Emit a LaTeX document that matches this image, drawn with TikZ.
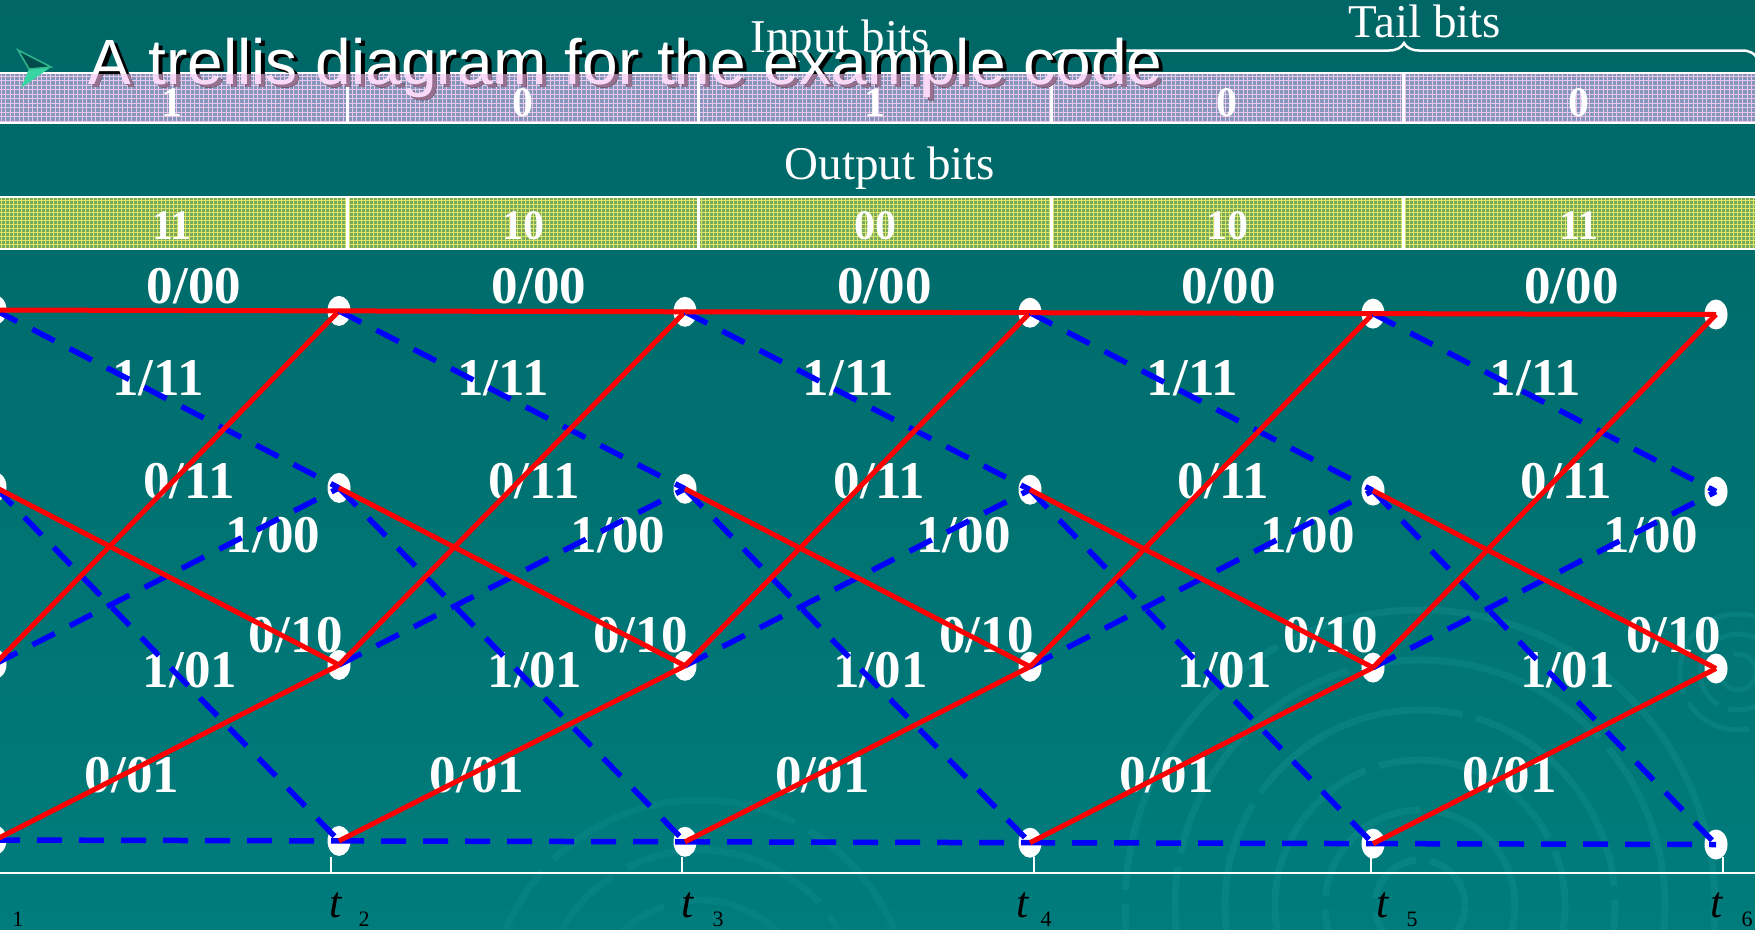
\documentclass[tikz,border=0pt]{standalone}
\usepackage{fontspec}
\setmainfont{Liberation Serif}
\newfontfamily\titlefont{Liberation Sans}
\usetikzlibrary{shapes.geometric,decorations.pathreplacing}

\definecolor{bgtop}{RGB}{0,102,102}
\definecolor{bgbot}{RGB}{0,124,124}
\definecolor{ringcol}{RGB}{24,146,146}
\definecolor{inbar}{RGB}{132,150,186}
\definecolor{ingrid}{RGB}{234,198,234}
\definecolor{outbar}{RGB}{120,170,92}
\definecolor{outgrid}{RGB}{222,228,106}
\definecolor{titlepink}{RGB}{250,216,248}
\definecolor{shadowpink}{RGB}{150,112,142}
\definecolor{bulletgreen}{RGB}{56,214,162}
\definecolor{trred}{RGB}{255,0,0}
\definecolor{trblue}{RGB}{0,0,255}

\begin{document}
\begin{tikzpicture}[x=1pt,y=-1pt,
  state/.style={ellipse, fill=white, minimum width=23pt, minimum height=30pt, inner sep=0pt},
  zero/.style={trred, line width=5pt},
  one/.style={trblue, line width=5.5pt, dash pattern=on 25pt off 17pt},
  lbl/.style={text=white, font=\fontsize{53}{60}\selectfont\bfseries, inner sep=0pt, anchor=base},
  bit/.style={text=white, font=\fontsize{42}{48}\selectfont\bfseries, inner sep=0pt, anchor=base},
  head/.style={text=white, font=\fontsize{47}{52}\selectfont, inner sep=0pt, anchor=base},
  ttext/.style={font=\titlefont\fontsize{64}{70}\selectfont, inner sep=0pt, anchor=base west},
  tlbl/.style={text=black, font=\fontsize{44}{48}\selectfont\itshape, inner sep=0pt, anchor=base},
  tsub/.style={text=black, font=\fontsize{22}{24}\selectfont, inner sep=0pt, anchor=base},
  ring/.style={ringcol, line width=7pt, opacity=0.35},
  rule/.style={white, line width=2.5pt}
]
\useasboundingbox (0,0) rectangle (1755,929);

% background
\shade[top color=bgtop, middle color=bgtop, bottom color=bgbot] (0,0) rectangle (1755,929);
\begin{scope}
  \clip (0,0) rectangle (1755,929);
  \foreach \r/\d in {45/60,95/140,145/200,195/230,245/260,295/300}
    \draw[ring, dash pattern=on \d pt off 14pt] (1420,905) circle (\r);
  \foreach \r in {18,38,58}
    \draw[ring, line width=5pt, dash pattern=on 70pt off 10pt] (1738,672) circle (\r);
  \foreach \r/\d in {110/150,160/210,210/260}
    \draw[ring, opacity=0.25, dash pattern=on \d pt off 16pt] (700,1010) circle (\r);
\end{scope}

% input bits bar
\fill[inbar] (0,73) rectangle (1755,123);
\begin{scope}
  \clip (0,73) rectangle (1755,123);
  \foreach \x in {1,5.5,...,1755} \draw[ingrid, line width=0.9pt] (\x,73) -- (\x,123);
  \foreach \y in {76,80.5,...,123} \draw[ingrid, line width=0.9pt] (0,\y) -- (1755,\y);
\end{scope}
\draw[rule] (0,73) -- (1755,73) (0,123) -- (1755,123);
\foreach \x in {347,698,1051,1403} \draw[white, line width=3pt] (\x,73) -- (\x,123);

% output bits bar
\fill[outbar] (0,197) rectangle (1755,249);
\begin{scope}
  \clip (0,197) rectangle (1755,249);
  \foreach \x in {1,5,...,1755} \draw[outgrid, line width=1pt] (\x,197) -- (\x,249);
  \foreach \y in {200,204,...,249} \draw[outgrid, line width=1pt] (0,\y) -- (1755,\y);
\end{scope}
\draw[rule] (0,197) -- (1755,197) (0,249) -- (1755,249);
\foreach \x in {347,698,1051,1403} \draw[white, line width=3pt] (\x,197) -- (\x,249);

% bit values
\foreach \k/\x/\b/\o in {1/172/1/11, 2/523/0/10, 3/875/1/00, 4/1227/0/10, 5/1579/0/11} {
  \node[bit] (in\k) at (\x,116) {\b};
  \node[bit] (out\k) at (\x,239) {\o};
}

% headings and brace
\node[head] (inhead) at (840,52) {Input bits};
\node[head] (tailhead) at (1425,37) {Tail bits};
\node[head] (outhead) at (890,179) {Output bits};
\draw[white, line width=2.5pt, decorate, decoration={brace, amplitude=15pt}] (1051,58) -- (1757,58);

% title with shadow, tinted where it lies over the bar
\node[ttext, text=black] (titleshadow) at (92,87) {A trellis diagram for the example code};
\node[ttext, text=white] (title) at (88,84) {A trellis diagram for the example code};
\begin{scope}
  \clip (0,74.5) rectangle (1755,121.5);
  \node[ttext, text=shadowpink] (titleshadowb) at (92,87) {A trellis diagram for the example code};
  \node[ttext, text=titlepink] (titleb) at (88,84) {A trellis diagram for the example code};
\end{scope}

% bullet
\fill[bulletgreen] (29,69) -- (51,67) -- (21,88) -- cycle;
\draw[bulletgreen!85!black, line width=1.5pt, fill=bgtop!75!black, line join=miter] (18,50) -- (51,67) -- (29,69) -- cycle;

% time axis
\draw[rule] (0,873) -- (1755,873);

% trellis states, ticks and time labels
\foreach \c/\x/\tk/\tx/\sx in {1/-5/-12/-8/18, 2/339/331/336/364, 3/685/682/688/718,
                               4/1030/1034/1023/1046, 5/1373/1371/1383/1412, 6/1716/1723/1717/1747} {
  \foreach \r/\y in {0/310,1/487,2/664,3/840}
    \node[state] (n\c\r) at (\x,\y+0.9*\c-0.9) {};
  \draw[white, line width=2pt] (\tk,857) -- (\tk,873);
  \node[tlbl] (t\c) at (\tx,917) {t};
  \node[tsub] (s\c) at (\sx,926) {\c};
}

% branch labels
\foreach \i/\m in {1/167,2/512,3/857.5,4/1201.5,5/1544.5} {
  \node[lbl] (l00\i) at (\m+27,303) {0/00};
  \node[lbl] (l11a\i) at (\m-9,395) {1/11};
  \node[lbl] (l11b\i) at (\m+22,498) {0/11};
  \node[lbl] (l100\i) at (\m+106,552) {1/00};
  \node[lbl] (l010\i) at (\m+129,652) {0/10};
  \node[lbl] (l101\i) at (\m+23,687) {1/01};
  \node[lbl] (l001\i) at (\m-35,792) {0/01};
}

% branches: dashed for input 1, solid for input 0
\foreach \i in {1,...,5} {
  \pgfmathtruncatemacro{\j}{\i+1}
  \draw[one] (n\i0.center) -- (n\j1.center);
  \draw[one] (n\i1.center) -- (n\j3.center);
  \draw[one] (n\i2.center) -- (n\j1.center);
  \draw[one] (n\i3.center) -- (n\j3.center);
  \draw[zero] (n\i0.center) -- (n\j0.center);
  \draw[zero] (n\i1.center) -- (n\j2.center);
  \draw[zero] (n\i2.center) -- (n\j0.center);
  \draw[zero] (n\i3.center) -- (n\j2.center);
}
\end{tikzpicture}
\end{document}
